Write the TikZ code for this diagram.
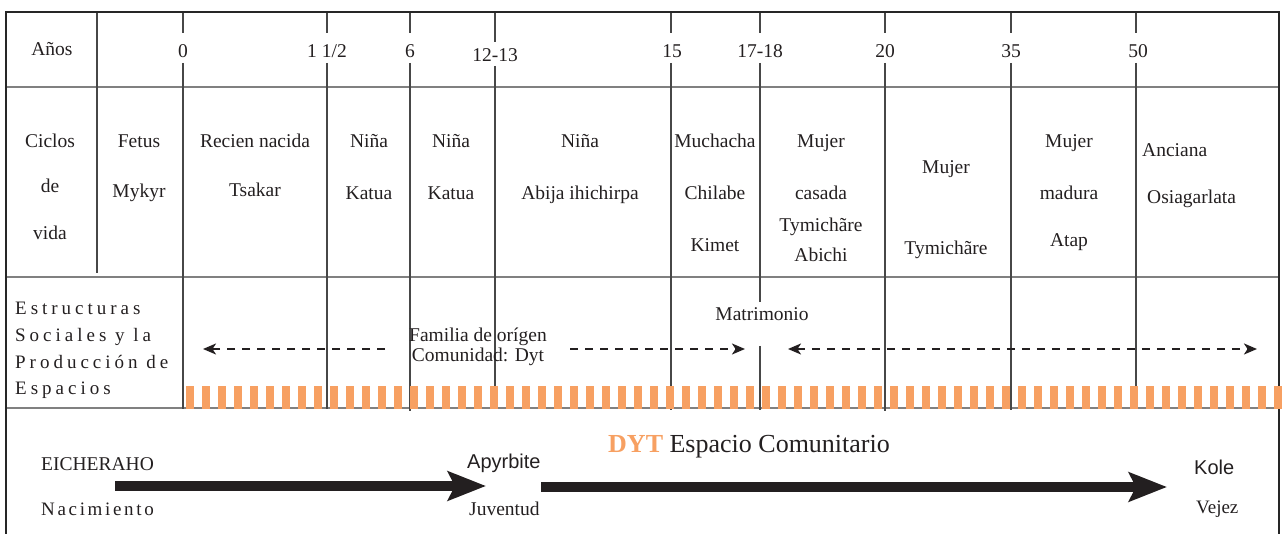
\documentclass[tikz,border=0pt]{standalone}
\usepackage{fontspec}
\setmainfont{Liberation Serif}
\newfontfamily\arialf{Liberation Sans}
\usetikzlibrary{arrows.meta}
\definecolor{dytorange}{RGB}{247,160,98}
\definecolor{inkblack}{RGB}{35,31,32}
\definecolor{rulegray}{RGB}{128,128,128}

\begin{document}
\begin{tikzpicture}[
        x=1pt, y=-1pt,
        every node/.style={font=\fontsize{19.5}{22}\selectfont, text=inkblack, inner sep=0pt},
        cell/.style={align=center, anchor=base},
        lefttxt/.style={align=left, anchor=base west},
        spaced/.style={font=\fontsize{19}{26.7}\selectfont\addfontfeature{LetterSpace=21}},
        vline/.style={draw=black!72, line width=1.1pt},
        hline/.style={draw=rulegray, line width=2pt},
        frame/.style={draw=black!85, line width=2.4pt},
        famarrow/.style={draw=inkblack, line width=2pt, dash pattern=on 8pt off 7pt,
            >={Stealth[length=13pt, width=11pt, inset=3.5pt]}},
        bigarrow/.style={-{Stealth[length=38pt, width=29pt, inset=7pt]}, draw=inkblack, line width=9.5pt},
        stripes/.style={draw=dytorange, line width=23pt, dash pattern=on 8pt off 8pt}
    ]
    \useasboundingbox (0,0) rectangle (1283,534);

    % table rules
    \draw[hline] (6,87) -- (1279,87);
    \draw[hline] (6,277) -- (1279,277);
    \draw[hline] (6,408) -- (1279,408);
    \draw[vline] (97,12) -- (97,273);
    \draw[vline] (183,12) -- (183,33) (183,63) -- (183,409);
    \draw[vline] (327,12) -- (327,33) (327,63) -- (327,409);
    \draw[vline] (410,12) -- (410,33) (410,63) -- (410,411);
    \draw[vline] (495,12) -- (495,42) (495,66) -- (495,409);
    \draw[vline] (671,12) -- (671,33) (671,63) -- (671,410);
    \draw[vline] (760,12) -- (760,33) (760,63) -- (760,302) (760,346) -- (760,410);
    \draw[vline] (885,12) -- (885,33) (885,63) -- (885,411);
    \draw[vline] (1011,12) -- (1011,33) (1011,63) -- (1011,410);
    \draw[vline] (1136,12) -- (1136,33) (1136,63) -- (1136,409);
    \draw[frame] (6,534) -- (6,12) -- (1279,12) -- (1279,534);

    % years
    \node[cell] (anos) at (52,56) {Años};
    \node[cell] (y0) at (183,58) {0};
    \node[cell] (y1) at (327,58) {1 1/2};
    \node[cell] (y6) at (410,58) {6};
    \node[cell] (y12) at (495,62) {12-13};
    \node[cell] (y15) at (672,58) {15};
    \node[cell] (y17) at (760,58) {17-18};
    \node[cell] (y20) at (885,58) {20};
    \node[cell] (y35) at (1011,58) {35};
    \node[cell] (y50) at (1138,58) {50};

    % life cycles (placed at the baseline of their last line)
    \node[cell] (ciclos) at (50,240) {Ciclos\\[23pt]de\\[25pt]vida};
    \node[cell] (fetus) at (139,198) {Fetus\\[28pt]Mykyr};
    \node[cell] (recien) at (255,197) {Recien nacida\\[27pt]Tsakar};
    \node[cell] (katua1) at (369,200) {Niña\\[30pt]Katua};
    \node[cell] (katua2) at (451,200) {Niña\\[30pt]Katua};
    \node[cell] (abija) at (580,200) {Niña\\[30pt]Abija ihichirpa};
    \node[cell] (muchacha) at (715,252) {Muchacha\\[30pt]Chilabe\\[30pt]Kimet};
    \node[cell] (casada) at (821,262) {Mujer\\[30pt]casada\\[10pt]Tymichãre\\[8pt]Abichi};
    \node[cell] (mujer) at (946,255) {Mujer\\[59pt]Tymichãre};
    \node[cell] (madura) at (1069,247) {Mujer\\[30pt]madura\\[25pt]Atap};
    \node[lefttxt] (anciana) at (1142,204) {Anciana\\[25pt]\hspace{5pt}Osiagarlata};

    % social structures
    \node[lefttxt, spaced] (estruct) at (15,395) {Estructuras\\Sociales y la\\Producción de\\Espacios};
    \node[cell, font=\fontsize{19.5}{20}\selectfont] (familia) at (478,362) {Familia de orígen\\Comunidad: Dyt};
    \node[cell] (matrim) at (762,321) {Matrimonio};
    \coordinate (famL) at (385,349);
    \coordinate (famLend) at (203,349);
    \coordinate (famR) at (570,349);
    \coordinate (famRend) at (745,349);
    \coordinate (matL) at (788,349);
    \coordinate (matR) at (1257,349);
    \draw[famarrow, ->] (famL) -- (famLend);
    \draw[famarrow, ->] (famR) -- (famRend);
    \draw[famarrow, <->] (matL) -- (matR);
    \draw[stripes] (186,397.5) -- (1283,397.5);

    % stages
    \node[lefttxt] (eich) at (41,471) {EICHERAHO};
    \node[lefttxt, font=\fontsize{19}{22}\selectfont\addfontfeature{LetterSpace=14}] (nacim) at (41,515) {Nacimiento};
    \node[lefttxt, font=\arialf\fontsize{20}{22}\selectfont] (apyr) at (467,468) {Apyrbite};
    \node[lefttxt] (juvent) at (469,515) {Juventud};
    \node[lefttxt, font=\fontsize{26}{28}\selectfont] (dyt) at (608,453) {\textcolor{dytorange}{\bfseries DYT} Espacio Comunitario};
    \node[lefttxt, font=\arialf\fontsize{20}{22}\selectfont] (kole) at (1194,475) {Kole};
    \node[lefttxt, font=\fontsize{19}{22}\selectfont] (vejez) at (1196,513) {Vejez};
    \coordinate (birth) at (115,486);
    \coordinate (youth) at (486,486);
    \coordinate (youth2) at (541,487);
    \coordinate (old) at (1167,487);
    \draw[bigarrow] (birth) -- (youth);
    \draw[bigarrow] (youth2) -- (old);
\end{tikzpicture}
\end{document}
